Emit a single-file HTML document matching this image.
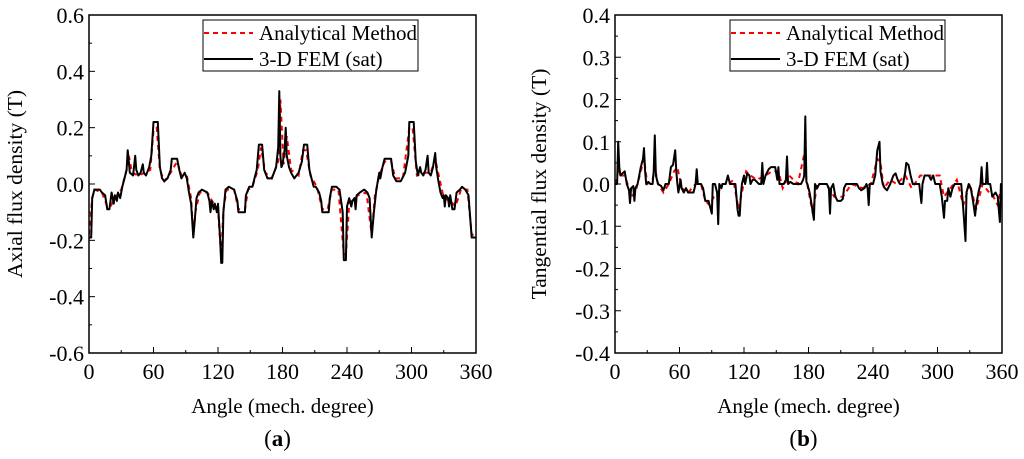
<!DOCTYPE html>
<html><head><meta charset="utf-8">
<style>
html,body{margin:0;padding:0;background:#fff;}
svg{display:block;font-family:"Liberation Serif",serif;}
</style></head>
<body>
<svg id="chart" width="1024" height="459" viewBox="0 0 1024 459" xmlns="http://www.w3.org/2000/svg"></svg>
<script>
// ---- data (a) axial ----
const axialAngles = [0,2,3,5,10,12,15,17,19,21,23,24,26,27,29,31,33,35,36,37,38,41,43,44,46,48,50,51,53,56,58,60,64,66,68,70,73,76,77,82,84,86,89,91,93,95,97,98,100,102,105,110,112,113,114,116,117,119,120,122,123,124,125,127,130,135,138,139,145,146,149,152,154,156,158,161,163,166,170,174,176,177,178,179,180,182,183,184,186,188,191,195,198,200,203,205,207,209,211,214,216,217,223,224,226,230,233,236,237,239,240,242,244,245,247,248,249,252,256,259,261,263,265,267,269,270,271,273,275,281,283,286,290,294,297,298,302,304,306,308,309,311,313,315,316,318,320,322,323,325,327,329,330,331,332,334,335,336,338,340,342,345,347,350,353,356,360];
const axialFEM = [-0.19,-0.19,-0.05,-0.02,-0.02,-0.03,-0.04,-0.09,-0.09,-0.03,-0.07,-0.04,-0.06,-0.03,-0.05,-0.01,0.02,0.05,0.12,0.08,0.04,0.03,0.1,0.05,0.03,0.04,0.07,0.04,0.03,0.06,0.1,0.22,0.22,0.06,0.02,0.01,0.02,0.05,0.09,0.09,0.05,0.02,0.04,0.02,-0.03,-0.07,-0.19,-0.15,-0.05,-0.03,-0.02,-0.03,-0.06,-0.1,-0.06,-0.09,-0.07,-0.1,-0.07,-0.2,-0.28,-0.28,-0.1,-0.02,-0.01,-0.02,-0.06,-0.1,-0.1,-0.04,-0.01,-0.01,0.02,0.05,0.14,0.14,0.05,0.02,0.02,0.06,0.13,0.33,0.1,0.06,0.07,0.12,0.2,0.1,0.06,0.04,0.02,0.04,0.08,0.14,0.14,0.05,0.02,-0.01,-0.01,-0.03,-0.06,-0.1,-0.1,-0.05,-0.01,-0.01,-0.02,-0.1,-0.27,-0.27,-0.08,-0.05,-0.08,-0.06,-0.05,-0.09,-0.04,-0.03,-0.02,-0.03,-0.05,-0.19,-0.1,-0.03,0.02,0.04,0.02,0.06,0.09,0.09,0.03,0.01,0.01,0.04,0.1,0.22,0.22,0.08,0.03,0.06,0.04,0.03,0.05,0.1,0.04,0.03,0.06,0.11,0.06,0.01,-0.03,-0.05,-0.04,-0.08,-0.04,-0.05,-0.08,-0.04,-0.09,-0.09,-0.03,-0.02,-0.01,-0.02,-0.04,-0.19,-0.19];
const axialAnaAngles = [0,3,5,12,17,20,24,30,35,37,40,46,52,57,60,63,66,70,76,82,86,91,95,97,99,103,110,116,120,123,125,128,135,139,145,148,152,157,160,164,170,176,178,181,184,188,195,199,202,206,212,217,222,226,232,237,239,242,250,258,263,266,270,275,281,285,292,298,301,305,312,318,322,326,330,336,341,346,352,356,360];
const axialAna = [-0.18,-0.05,-0.02,-0.03,-0.08,-0.08,-0.05,-0.02,0.05,0.1,0.04,0.03,0.04,0.05,0.19,0.2,0.05,0.01,0.04,0.08,0.03,0.03,-0.05,-0.18,-0.1,-0.03,-0.03,-0.07,-0.09,-0.26,-0.09,-0.02,-0.02,-0.09,-0.09,-0.02,-0.01,0.05,0.13,0.04,0.02,0.08,0.3,0.07,0.17,0.05,0.03,0.12,0.12,0.03,-0.01,-0.09,-0.09,-0.02,-0.02,-0.25,-0.25,-0.07,-0.04,-0.03,-0.18,-0.04,0.03,0.08,0.08,0.02,0.02,0.2,0.2,0.03,0.04,0.04,0.09,0.02,-0.05,-0.06,-0.08,-0.02,-0.02,-0.18,-0.18];
const axialTicks = ["-0.6","-0.4","-0.2","0.0","0.2","0.4","0.6"];
// ---- data (b) tangential ----
const tanAngles = [0,2,3,4,5,7,9,11,13,14,15,17,18,19,21,24,26,27,28,29,31,33,35,36,37,38,40,43,45,47,50,52,54,56,57,58,59,61,62,64,66,68,73,75,76,77,80,82,84,87,89,90,91,93,95,96,97,99,100,103,105,107,110,112,114,115,116,117,118,120,121,123,125,126,128,130,132,134,136,137,138,140,143,145,149,151,152,153,155,157,159,160,161,163,166,170,173,175,176,177,178,179,181,183,185,186,188,190,197,199,200,201,203,205,207,210,212,213,215,218,225,227,229,232,234,235,236,237,240,242,244,246,247,249,251,253,256,259,261,263,265,268,270,271,273,275,277,283,285,286,288,292,294,296,298,302,304,306,307,309,310,312,314,316,322,324,326,327,329,331,333,335,336,338,340,341,342,345,346,347,349,351,354,356,358,359,360];
const tanFEM = [0,0,0.1,0.04,0.02,0.025,0.03,0,-0.015,-0.045,-0.01,-0.005,-0.04,-0.01,0,0.04,0.06,0.085,0.03,0,0.005,0,0,0.03,0.115,0.02,0,-0.005,-0.015,0,0,0.04,0.045,0.08,0.03,0,-0.02,0.01,-0.01,-0.02,-0.01,-0.02,-0.02,0,0.035,0,0,-0.01,-0.04,-0.04,-0.06,-0.07,0,0,-0.02,-0.095,0,-0.01,0,0,0.02,0,0,0,-0.06,-0.075,-0.075,-0.03,0,0.02,0,0.025,0.02,0,0.01,0.01,0.005,0,0,0.05,0,0.02,0.035,0.04,0.04,0.01,0.04,0,0,0,0.01,0.065,0,0.005,0,0,0,0.01,0.02,0.16,0.005,0,-0.02,-0.05,-0.085,0,-0.01,0,0,-0.01,-0.07,-0.01,0,-0.03,-0.04,-0.04,-0.035,-0.01,0,0,0,-0.01,-0.015,-0.01,0,-0.01,-0.05,0,0,0.02,0.08,0.1,0.03,0,-0.01,-0.015,0,0.02,0.025,0.01,0,0,0.03,0.05,0.045,0.02,0,0,-0.045,0,0.02,0.02,0.01,0.02,0,0,-0.03,-0.08,-0.04,-0.04,-0.01,-0.03,-0.01,0,0,-0.06,-0.135,-0.02,0,-0.01,-0.04,-0.075,-0.05,-0.02,0,0.04,0,0,0.05,0,0,-0.03,-0.02,-0.03,-0.09,0,0];
const tanAnaAngles = [0,3,5,9,13,15,19,24,27,30,35,37,40,45,50,55,58,62,68,75,80,84,88,92,96,100,106,110,115,118,122,126,132,140,146,152,156,162,170,176,178,181,184,188,196,204,212,220,230,238,244,247,250,256,262,270,276,284,292,298,302,306,312,318,324,330,336,342,348,352,356,360];
const tanAna = [0,0.03,0.02,0.02,-0.01,-0.03,-0.02,0.03,0.06,0,0.01,0.04,0,-0.02,0,0.03,0.04,-0.01,-0.02,0,0,-0.04,-0.05,-0.03,-0.02,0,0,0.01,-0.06,-0.02,0.03,0.02,0.01,0.02,0.03,0.03,-0.01,0.02,0,0.07,0.01,-0.03,-0.07,0,0,-0.03,-0.03,0,-0.01,0,0.06,0.05,-0.01,0.01,0,0.02,-0.01,0.02,0.02,0.02,0.02,-0.03,-0.01,0.01,-0.05,0,-0.06,0,-0.02,-0.03,-0.05,0];
const tanTicks = ["-0.4","-0.3","-0.2","-0.1","0.0","0.1","0.2","0.3","0.4"];
const xTicks = ["0","60","120","180","240","300","360"];

const NS = "http://www.w3.org/2000/svg";
const svg = document.getElementById('chart');
function mk(tag, attrs, parent, name){
  const e = document.createElementNS(NS, tag);
  for (const k in attrs) e.setAttribute(k, attrs[k]);
  
  
  (parent||svg).appendChild(e);
  return e;
}
function drawPlot(o){
  const g = mk('g', {}, svg, o.id);
  const L=o.left, R=o.right, T=15, B=353;
  const xs = v => L + (v/360)*(R-L);
  const ys = v => B - (v - o.ymin)/(o.ymax-o.ymin)*(B-T);
  for (let a=0;a<=360;a+=30){
    const major = a%60===0;
    mk('line',{x1:xs(a),x2:xs(a),y1:B,y2:B-(major?6:3),stroke:'#000','stroke-width':1},g,'x-tick');
  }
  xTicks.forEach(t=>{
    const tx = mk('text',{x:xs(+t),y:B+26,'text-anchor':'middle','font-size':22,fill:'#000'},g,'x-tick-label');
    tx.textContent=t;
  });
  const n=o.ticks.length;
  for (let i=0;i<n;i++){
    const v=+o.ticks[i];
    mk('line',{x1:L,x2:L+6,y1:ys(v),y2:ys(v),stroke:'#000','stroke-width':1},g,'y-tick');
    if(i<n-1){const m=(v+ +o.ticks[i+1])/2;
      mk('line',{x1:L,x2:L+3,y1:ys(m),y2:ys(m),stroke:'#000','stroke-width':1},g,'y-minor-tick');}
    const tx = mk('text',{x:L-5,y:ys(v)+8,'text-anchor':'end','font-size':22,fill:'#000'},g,'y-tick-label');
    tx.textContent=o.ticks[i];
  }
  const clip = 'clip-'+o.id;
  const cp = mk('clipPath',{id:clip},g,'plot-clip');
  mk('rect',{x:L,y:T,width:R-L,height:B-T},cp,'clip-rect');
  const pa = o.anaA.map((a,i)=>(i?'L':'M')+xs(a).toFixed(1)+','+ys(o.anaV[i]).toFixed(1)).join('');
  mk('path',{d:pa,fill:'none',stroke:'#ff0000','stroke-width':2,'stroke-dasharray':'5,4','clip-path':'url(#'+clip+')'},g,'analytical-line');
  const pf = o.femA.map((a,i)=>(i?'L':'M')+xs(a).toFixed(1)+','+ys(o.femV[i]).toFixed(1)).join('');
  mk('path',{d:pf,fill:'none',stroke:'#000','stroke-width':2,'stroke-linejoin':'round','clip-path':'url(#'+clip+')'},g,'fem-line');
  mk('rect',{x:L,y:T,width:R-L,height:B-T,fill:'none',stroke:'#000','stroke-width':1.5},g,'plot-frame');
  const lg = mk('g',{},g,'legend');
  const lx=o.legX;
  mk('rect',{x:lx,y:20,width:215,height:51,fill:'#fff',stroke:'#000','stroke-width':1},lg,'legend-box');
  mk('line',{x1:lx+1,x2:lx+50,y1:33,y2:33,stroke:'#ff0000','stroke-width':2,'stroke-dasharray':'5,4'},lg,'legend-analytical-swatch');
  const t1=mk('text',{x:lx+56,y:40,'font-size':21,fill:'#000'},lg,'legend-analytical-label');t1.textContent='Analytical Method';
  mk('line',{x1:lx+1,x2:lx+50,y1:59,y2:59,stroke:'#000','stroke-width':2},lg,'legend-fem-swatch');
  const t2=mk('text',{x:lx+56,y:66,'font-size':21,fill:'#000'},lg,'legend-fem-label');t2.textContent='3-D FEM (sat)';
  const xt=mk('text',{x:(L+R)/2,y:413,'text-anchor':'middle','font-size':21,fill:'#000'},g,'x-axis-title');xt.textContent='Angle (mech. degree)';
  const cy=(T+B)/2;
  const yt=mk('text',{x:o.ytX,y:cy,'text-anchor':'middle','font-size':21.5,fill:'#000',transform:'rotate(-90 '+o.ytX+' '+cy+')'},g,'y-axis-title');yt.textContent=o.ytitle;
  const pl=mk('text',{x:(L+R)/2-5,y:446,'text-anchor':'middle','font-size':23,fill:'#000'},g,'panel-label');
  pl.innerHTML='(<tspan font-weight="bold">'+o.panel+'</tspan>)';
}
drawPlot({id:'plot-a',left:89,right:476,ymin:-0.6,ymax:0.6,ticks:axialTicks,femA:axialAngles,femV:axialFEM,anaA:axialAnaAngles,anaV:axialAna,legX:203,ytX:22,ytitle:'Axial flux density (T)',panel:'a'});
drawPlot({id:'plot-b',left:615,right:1002,ymin:-0.4,ymax:0.4,ticks:tanTicks,femA:tanAngles,femV:tanFEM,anaA:tanAnaAngles,anaV:tanAna,legX:730,ytX:546,ytitle:'Tangential flux density (T)',panel:'b'});
</script>
</body></html>
